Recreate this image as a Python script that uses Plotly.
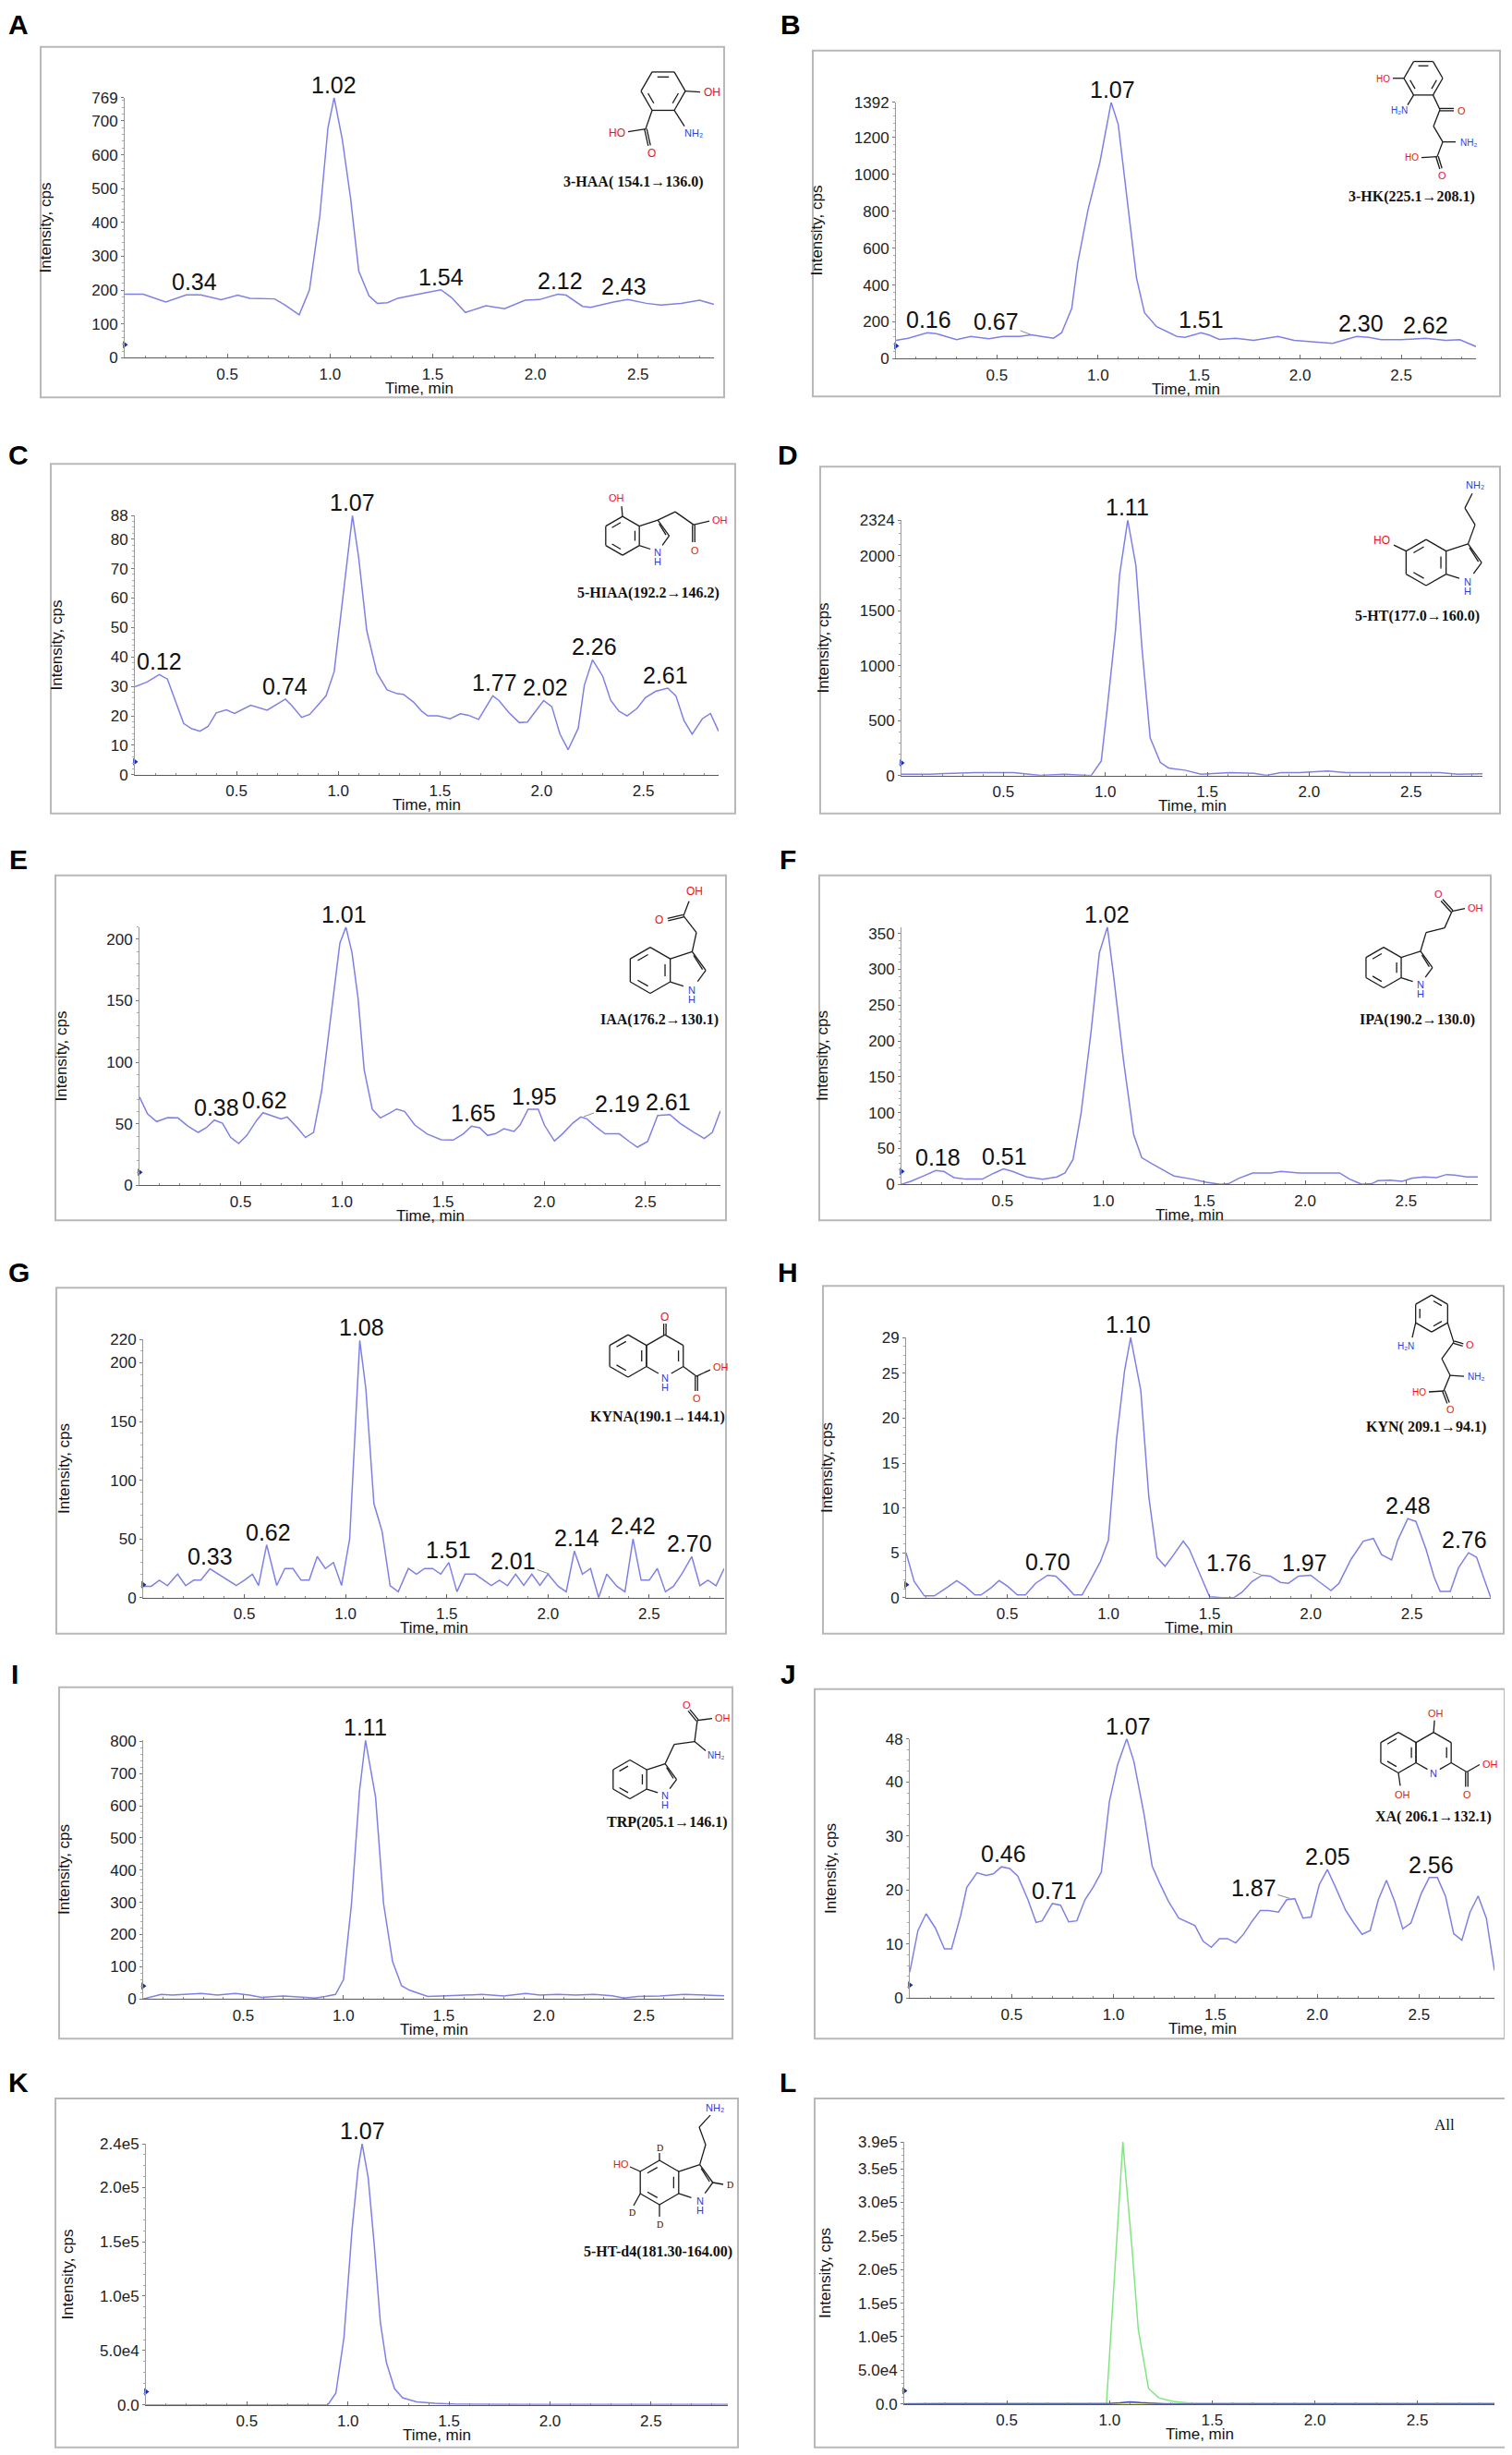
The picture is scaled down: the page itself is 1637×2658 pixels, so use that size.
import math
import numpy as np
import plotly.graph_objects as go

W, H = 1637, 2658
PAD = 8
SANS = "Liberation Sans, Arial, sans-serif"
SERIF = "Liberation Serif, DejaVu Serif, serif"
TRACE = "#7f80e6"
RED = "#e8141c"
BLUE = "#2b3fe0"

# ---- chromatogram readings (time in min, intensity in cps) ----
HAA_T = [0, 0.09, 0.2, 0.3, 0.37, 0.47, 0.55, 0.61, 0.73, 0.78, 0.85, 0.9, 0.95, 0.99, 1.02, 1.06, 1.1, 1.14,
         1.19, 1.23, 1.28, 1.33, 1.43, 1.54, 1.59, 1.66, 1.76, 1.85, 1.95, 2.02, 2.11, 2.15, 2.23, 2.27, 2.38,
         2.45, 2.54, 2.61, 2.71, 2.8, 2.87]
HAA_I = [188, 188, 165, 186, 186, 172, 185, 176, 174, 156, 127, 201, 418, 680, 769, 644, 472, 256, 183, 161,
         163, 176, 188, 201, 179, 134, 154, 145, 170, 172, 188, 185, 152, 149, 165, 172, 161, 156, 161, 170, 158]
HAA_PEAKS = ["0.34", "1.02", "1.54", "2.12", "2.43"]
HAA_YTICKS = [0, 100, 200, 300, 400, 500, 600, 700, 769]

HK_T = [0, 0.06, 0.155, 0.2, 0.3, 0.37, 0.46, 0.53, 0.61, 0.67, 0.72, 0.78, 0.82, 0.87, 0.9, 0.95, 1.01, 1.065,
        1.1, 1.145, 1.19, 1.23, 1.29, 1.39, 1.43, 1.51, 1.55, 1.6, 1.68, 1.77, 1.89, 1.97, 2.04, 2.16, 2.28, 2.34,
        2.4, 2.5, 2.62, 2.72, 2.79, 2.87]
HK_I = [100, 111, 141, 136, 103, 121, 108, 121, 121, 130, 121, 111, 141, 274, 523, 806, 1071, 1392, 1271, 855,
        440, 249, 174, 121, 116, 141, 128, 105, 111, 100, 121, 100, 95, 83, 121, 116, 103, 103, 111, 100, 103, 66]
HK_PEAKS = ["0.16", "0.67", "1.07", "1.51", "2.30", "2.62"]
HK_YTICKS = [0, 200, 400, 600, 800, 1000, 1200, 1392]

HIAA_T = [0, 0.06, 0.12, 0.16, 0.24, 0.28, 0.32, 0.36, 0.40, 0.45, 0.49, 0.57, 0.65, 0.74, 0.77, 0.82, 0.86,
          0.94, 0.98, 1.01, 1.04, 1.07, 1.10, 1.14, 1.19, 1.24, 1.29, 1.32, 1.37, 1.41, 1.44, 1.49, 1.55, 1.60,
          1.64, 1.69, 1.76, 1.79, 1.84, 1.89, 1.93, 2.01, 2.05, 2.09, 2.13, 2.18, 2.21, 2.25, 2.30, 2.34, 2.38,
          2.42, 2.47, 2.51, 2.56, 2.62, 2.66, 2.70, 2.74, 2.79, 2.83, 2.87]
HIAA_I = [29.9, 31.5, 34, 32.5, 17.4, 15.6, 14.8, 16.4, 21, 22, 20.8, 23.6, 21.9, 25.7, 23.6, 19.5, 20.5, 26.8,
          35, 53, 71, 88, 74, 49, 34.6, 28.8, 27.5, 27.3, 24.7, 21.6, 20, 20, 19, 20.7, 20.2, 18.8, 26.8, 25.2,
          21, 17.7, 17.9, 25.2, 23.1, 13.8, 8.5, 15.8, 30.4, 39, 33.5, 25.2, 21.6, 20, 22.6, 26.2, 28.3, 29.4,
          26.8, 18.4, 13.8, 19, 20.8, 14.8]
HIAA_PEAKS = ["0.12", "0.74", "1.07", "1.77", "2.02", "2.26", "2.61"]
HIAA_YTICKS = [0, 10, 20, 30, 40, 50, 60, 70, 80, 88]

HT_T = [0, 0.14, 0.36, 0.55, 0.68, 0.80, 0.93, 0.98, 1.01, 1.05, 1.07, 1.11, 1.15, 1.18, 1.22, 1.27, 1.31, 1.39,
        1.47, 1.61, 1.73, 1.79, 1.86, 1.95, 2.09, 2.18, 2.32, 2.48, 2.64, 2.73, 2.85]
HT_I = [14, 14, 28, 28, 3, 14, 0, 134, 624, 1323, 1826, 2324, 1910, 1155, 344, 120, 70, 50, 14, 28, 22, 3, 28,
        28, 42, 28, 28, 31, 28, 14, 17]
HT_PEAKS = ["1.11"]
HT_YTICKS = [0, 500, 1000, 1500, 2000, 2324]

IAA_T = [0, 0.04, 0.085, 0.14, 0.19, 0.24, 0.29, 0.33, 0.37, 0.41, 0.45, 0.49, 0.53, 0.58, 0.61, 0.66, 0.70,
         0.73, 0.78, 0.82, 0.86, 0.90, 0.95, 0.99, 1.02, 1.05, 1.08, 1.11, 1.15, 1.19, 1.24, 1.27, 1.31, 1.36,
         1.42, 1.49, 1.55, 1.60, 1.64, 1.68, 1.72, 1.76, 1.80, 1.85, 1.88, 1.92, 1.97, 2.00, 2.05, 2.09, 2.14,
         2.18, 2.21, 2.26, 2.30, 2.37, 2.42, 2.46, 2.51, 2.56, 2.62, 2.67, 2.74, 2.79, 2.83, 2.87]
IAA_I = [71.8, 58, 51.8, 55, 54.8, 48, 43, 46.8, 53, 50.5, 39, 34, 40.5, 53, 59, 56, 54, 55.5, 46.8, 38.8, 43,
         76.8, 144, 196.8, 210, 189, 151.8, 94, 61.8, 54.8, 59, 62, 60, 49, 41.8, 37, 36.8, 41.8, 48, 46.8, 40.5,
         42, 46, 43.8, 49, 61.8, 61.8, 49, 36, 41.8, 50.5, 55.5, 54, 46.8, 41.8, 41.8, 35.5, 31, 35.5, 56.8,
         57.5, 50.5, 43, 38, 43, 60.5]
IAA_PEAKS = ["0.38", "0.62", "1.01", "1.65", "1.95", "2.19", "2.61"]
IAA_YTICKS = [0, 50, 100, 150, 200]

IPA_T = [0, 0.046, 0.115, 0.17, 0.21, 0.26, 0.32, 0.40, 0.46, 0.505, 0.55, 0.62, 0.70, 0.77, 0.81, 0.85, 0.89,
         0.94, 0.98, 1.02, 1.05, 1.10, 1.15, 1.19, 1.24, 1.28, 1.35, 1.44, 1.51, 1.58, 1.62, 1.67, 1.74, 1.83,
         1.88, 1.97, 2.06, 2.17, 2.22, 2.28, 2.33, 2.36, 2.42, 2.48, 2.53, 2.59, 2.65, 2.70, 2.74, 2.80, 2.855]
IPA_I = [0, 4.3, 12.4, 19.3, 18, 9.4, 7.3, 7.3, 15.9, 21.5, 18, 10.3, 7.3, 10.3, 15.9, 35, 99.6, 215, 322.7, 359,
         292.7, 172.5, 69.5, 37.3, 28.8, 22.3, 11.6, 7.3, 3, 0, 0.9, 8.2, 15.9, 15.9, 18, 15.9, 15.9, 15.9, 7.3, 0,
         0.9, 5.2, 6, 4.3, 8.6, 10.3, 9.4, 13.7, 12.9, 10.3, 10.3]
IPA_PEAKS = ["0.18", "0.51", "1.02"]
IPA_YTICKS = [0, 50, 100, 150, 200, 250, 300, 350]

KYNA_T = [0, 0.04, 0.08, 0.12, 0.17, 0.21, 0.25, 0.285, 0.33, 0.37, 0.42, 0.46, 0.50, 0.54, 0.57, 0.61, 0.66,
          0.70, 0.74, 0.78, 0.82, 0.86, 0.90, 0.94, 0.98, 1.02, 1.07, 1.10, 1.14, 1.18, 1.22, 1.26, 1.31, 1.35,
          1.39, 1.43, 1.47, 1.51, 1.55, 1.59, 1.64, 1.68, 1.72, 1.76, 1.80, 1.84, 1.88, 1.92, 1.96, 2.00, 2.05,
          2.09, 2.13, 2.17, 2.21, 2.25, 2.29, 2.34, 2.38, 2.42, 2.46, 2.50, 2.54, 2.58, 2.62, 2.66, 2.71, 2.75,
          2.79, 2.83, 2.87]
KYNA_I = [9.7, 9.7, 14.9, 10.2, 20, 10.2, 14.9, 14.9, 24.5, 20, 14.9, 10.4, 14.9, 20, 10.4, 45, 10.4, 24.8, 24.8,
          14.9, 14.9, 35, 24.8, 30, 10.4, 50, 219, 178, 80, 56.7, 10.2, 5, 24.8, 20, 24.8, 24.8, 20, 30, 5, 20, 20,
          14.9, 10.4, 14.9, 10.2, 20, 10.4, 20, 10.4, 20, 9.7, 5, 39.7, 20, 24.8, 0, 20, 9.7, 5, 50, 14.9, 14.9,
          24.8, 5, 9.7, 20, 35, 10.2, 14.9, 10.2, 24.8]
KYNA_PEAKS = ["0.33", "0.62", "1.08", "1.51", "2.01", "2.14", "2.42", "2.70"]
KYNA_YTICKS = [0, 50, 100, 150, 200, 220]

KYN_T = [0, 0.04, 0.09, 0.14, 0.20, 0.25, 0.29, 0.34, 0.37, 0.42, 0.46, 0.50, 0.55, 0.59, 0.64, 0.70, 0.74,
         0.79, 0.83, 0.87, 0.91, 0.96, 1.00, 1.04, 1.08, 1.11, 1.16, 1.20, 1.24, 1.28, 1.32, 1.37, 1.40, 1.46,
         1.50, 1.56, 1.62, 1.66, 1.71, 1.76, 1.80, 1.85, 1.89, 1.94, 2.00, 2.04, 2.10, 2.14, 2.20, 2.26, 2.31,
         2.35, 2.40, 2.43, 2.48, 2.52, 2.57, 2.61, 2.64, 2.69, 2.73, 2.78, 2.82, 2.86, 2.89]
KYN_I = [5, 1.8, 0.2, 0.2, 1.1, 1.9, 1.3, 0.3, 0.3, 1.1, 1.9, 1.3, 0.3, 0.3, 1.6, 2.5, 2.4, 1.3, 0.3, 0.3, 1.9, 4,
         6.4, 17.6, 25.3, 29, 23.1, 11.2, 4.5, 3.5, 4.7, 6.3, 5.4, 2.3, 0.1, 0, 0, 0.6, 1.8, 2.5, 2.4, 1.7, 1.6,
         2.4, 2.5, 1.8, 0.8, 1.6, 4.3, 6.3, 6.6, 4.8, 4.2, 6.4, 8.8, 8.5, 5.4, 2.3, 0.7, 0.7, 3.3, 5, 4.5, 1.9, 0]
KYN_PEAKS = ["0.70", "1.10", "1.76", "1.97", "2.48", "2.76"]
KYN_YTICKS = [0, 5, 10, 15, 20, 25, 29]

TRP_T = [0, 0.03, 0.09, 0.145, 0.235, 0.29, 0.37, 0.46, 0.53, 0.59, 0.70, 0.79, 0.86, 0.91, 0.96, 1.00, 1.04,
         1.08, 1.11, 1.16, 1.20, 1.245, 1.29, 1.33, 1.38, 1.42, 1.49, 1.58, 1.69, 1.80, 1.91, 1.98, 2.07, 2.16,
         2.25, 2.34, 2.40, 2.47, 2.58, 2.70, 2.81, 2.90]
TRP_I = [0, 5, 14, 12, 14, 17, 12, 17, 12, 5, 9, 5, 3, 8, 14, 60, 296, 646, 803, 627, 296, 116, 41, 27, 17, 8, 9,
         12, 14, 9, 17, 12, 14, 12, 14, 10, 3, 8, 9, 14, 12, 10]
TRP_PEAKS = ["1.11"]
TRP_YTICKS = [0, 100, 200, 300, 400, 500, 600, 700, 800]

XA_T = [0, 0.04, 0.08, 0.125, 0.17, 0.205, 0.25, 0.28, 0.33, 0.375, 0.41, 0.45, 0.49, 0.53, 0.58, 0.62, 0.65,
        0.70, 0.74, 0.78, 0.82, 0.86, 0.90, 0.94, 0.98, 1.02, 1.065, 1.10, 1.15, 1.19, 1.23, 1.27, 1.32, 1.36,
        1.40, 1.44, 1.48, 1.52, 1.56, 1.60, 1.64, 1.68, 1.72, 1.76, 1.81, 1.85, 1.89, 1.93, 1.97, 2.01, 2.05,
        2.09, 2.14, 2.18, 2.22, 2.26, 2.30, 2.34, 2.38, 2.42, 2.46, 2.51, 2.55, 2.59, 2.63, 2.67, 2.71, 2.75,
        2.79, 2.83, 2.87]
XA_I = [4.8, 12.5, 15.6, 13, 9.1, 9.1, 15.3, 20.5, 23.2, 22.7, 23, 24.3, 24, 22.6, 18.2, 14, 14.3, 17.5, 17.2,
        14.1, 14.3, 18.2, 20.5, 23.3, 36.4, 43.2, 48, 43.8, 34, 24.4, 21, 17.9, 14.8, 14.1, 13.4, 10.5, 9.4, 11, 11,
        10.2, 11.9, 14.2, 16.2, 16.2, 15.9, 18.2, 18.4, 14.8, 15, 21, 23.8, 20.5, 16.2, 13.9, 11.8, 12.5, 18.2,
        21.8, 17.9, 12.8, 13.9, 19.3, 22.3, 22.3, 18.8, 11.9, 10.7, 15.9, 18.9, 14.8, 5.1]
XA_PEAKS = ["0.46", "0.71", "1.07", "1.87", "2.05", "2.56"]
XA_YTICKS = [0, 10, 20, 30, 40, 48]

HTD4_T = [0, 0.55, 0.90, 0.94, 0.98, 1.02, 1.05, 1.07, 1.10, 1.13, 1.16, 1.19, 1.23, 1.27, 1.34, 1.43, 1.54,
          1.87, 2.88]
HTD4_I = [0, 0, 0, 10800, 61800, 161000, 217000, 240000, 209000, 147000, 76000, 39000, 15000, 6500, 2800, 1400,
          600, 300, 300]
HTD4_PEAKS = ["1.07"]
HTD4_YTICKS = [0, 50000, 100000, 150000, 200000, 240000]
HTD4_YTEXT = ["0.0", "5.0e4", "1.0e5", "1.5e5", "2.0e5", "2.4e5"]

ALL_GREEN_T = [0, 0.985, 1.02, 1.045, 1.065, 1.075, 1.11, 1.14, 1.175, 1.19, 1.24, 1.31, 1.40, 2.875]
ALL_GREEN_I = [0, 0, 170000, 300000, 390000, 353000, 230000, 111000, 52000, 23000, 9000, 3600, 900, 900]
ALL_BLUE_T = [0, 0.95, 1.0, 1.05, 1.1, 1.15, 1.2, 1.27, 2.875]
ALL_BLUE_I = [0, 0, 800, 1800, 3200, 2000, 900, 0, 0]
ALL_YELLOW_T = [0, 0.8, 1.0, 1.3, 2.0, 2.875]
ALL_YELLOW_I = [600, 900, 1200, 1400, 1300, 1200]
ALL_YTICKS = [0, 50000, 100000, 150000, 200000, 250000, 300000, 350000, 390000]
ALL_YTEXT = ["0.0", "5.0e4", "1.0e5", "1.5e5", "2.0e5", "2.5e5", "3.0e5", "3.5e5", "3.9e5"]

XTICKS = [0.5, 1.0, 1.5, 2.0, 2.5]

# panel layout in page pixels: plot area (left, right, top, bottom), frame box, letter position
PANELS = [
    dict(letter="A", series=[(HAA_T, HAA_I, TRACE)], peaks=HAA_PEAKS, yt=HAA_YTICKS, ymax=769, xmax=2.87,
         name="3-HAA( 154.1→136.0)", name_xy=(690, 194), area=(139, 777, 103, 385), box=(48, 48, 788, 428),
         let_xy=(24, 24)),
    dict(letter="B", series=[(HK_T, HK_I, TRACE)], peaks=HK_PEAKS, yt=HK_YTICKS, ymax=1392, xmax=2.87,
         name="3-HK(225.1→208.1)", name_xy=(1532, 210), area=(974, 1602, 108, 386), box=(884, 52, 1628, 427),
         let_xy=(860, 24)),
    dict(letter="C", series=[(HIAA_T, HIAA_I, TRACE)], peaks=HIAA_PEAKS, yt=HIAA_YTICKS, ymax=88, xmax=2.87,
         name="5-HIAA(192.2→146.2)", name_xy=(706, 640), area=(150, 782, 556, 837), box=(59, 500, 800, 879),
         let_xy=(24, 490)),
    dict(letter="D", series=[(HT_T, HT_I, TRACE)], peaks=HT_PEAKS, yt=HT_YTICKS, ymax=2324, xmax=2.85,
         name="5-HT(177.0→160.0)", name_xy=(1538, 665), area=(980, 1609, 561, 838), box=(892, 503, 1628, 879),
         let_xy=(857, 490)),
    dict(letter="E", series=[(IAA_T, IAA_I, TRACE)], peaks=IAA_PEAKS, yt=IAA_YTICKS, ymax=210, xmax=2.87,
         name="IAA(176.2→130.1)", name_xy=(718, 1102), area=(155, 784, 1002, 1282), box=(64, 946, 790, 1320),
         let_xy=(24, 929)),
    dict(letter="F", series=[(IPA_T, IPA_I, TRACE)], peaks=IPA_PEAKS, yt=IPA_YTICKS, ymax=359, xmax=2.855,
         name="IPA(190.2→130.0)", name_xy=(1538, 1102), area=(980, 1604, 1002, 1281), box=(891, 946, 1618, 1320),
         let_xy=(857, 929)),
    dict(letter="G", series=[(KYNA_T, KYNA_I, TRACE)], peaks=KYNA_PEAKS, yt=KYNA_YTICKS, ymax=220, xmax=2.87,
         name="KYNA(190.1→144.1)", name_xy=(716, 1533), area=(159, 788, 1449, 1729), box=(65, 1393, 790, 1768),
         let_xy=(24, 1376)),
    dict(letter="H", series=[(KYN_T, KYN_I, TRACE)], peaks=KYN_PEAKS, yt=KYN_YTICKS, ymax=29, xmax=2.89,
         name="KYN( 209.1→94.1)", name_xy=(1548, 1544), area=(985, 1618, 1447, 1729), box=(895, 1391, 1632, 1768),
         let_xy=(857, 1376)),
    dict(letter="I", series=[(TRP_T, TRP_I, TRACE)], peaks=TRP_PEAKS, yt=TRP_YTICKS, ymax=805, xmax=2.90,
         name="TRP(205.1→146.1)", name_xy=(726, 1973), area=(159, 788, 1883, 2164), box=(68, 1826, 797, 2207),
         let_xy=(20, 1812)),
    dict(letter="J", series=[(XA_T, XA_I, TRACE)], peaks=XA_PEAKS, yt=XA_YTICKS, ymax=48, xmax=2.87,
         name="XA( 206.1→132.1)", name_xy=(1556, 1967), area=(989, 1622, 1882, 2163), box=(886, 1828, 1633, 2207),
         let_xy=(857, 1812)),
    dict(letter="K", series=[(HTD4_T, HTD4_I, TRACE)], peaks=HTD4_PEAKS, yt=HTD4_YTICKS, ymax=240000, xmax=2.88,
         ytext=HTD4_YTEXT, name="5-HT-d4(181.30-164.00)", name_xy=(716, 2438), area=(162, 792, 2321, 2604),
         box=(64, 2272, 803, 2650), let_xy=(24, 2254)),
    dict(letter="L", series=[(ALL_YELLOW_T, ALL_YELLOW_I, "#d9e44a"), (ALL_GREEN_T, ALL_GREEN_I, "#7fe67f"),
                             (ALL_BLUE_T, ALL_BLUE_I, "#3a46c8")],
         peaks=[], yt=ALL_YTICKS, ytext=ALL_YTEXT, ymax=390000, xmax=2.875, name="All", name_xy=(1568, 2300),
         area=(983, 1622, 2319, 2603), box=(886, 2272, 1634, 2650), let_xy=(857, 2254)),
]

# labels that sit beside their peak with a short leader line (pixel offsets)
LEADERS = {("B", "0.67"): (-38, -14), ("E", "2.19"): (38, -14), ("G", "2.01"): (-40, -14),
           ("H", "1.76"): (-36, -13), ("J", "1.87"): (-40, -12)}

fig = go.Figure()
shapes, notes = [], []


def fx(x):
    return (x - 4 - PAD) / W


def fy(y):
    y = y - 6 + 0.006 * (y - 48)
    return 1 - (y - PAD) / H


def seg(x0, y0, x1, y1, color="#1a1a1a", width=1.3):
    shapes.append(dict(type="line", xref="paper", yref="paper", x0=fx(x0), y0=fy(y0), x1=fx(x1), y1=fy(y1),
                       line=dict(color=color, width=width)))


def dbl(x0, y0, x1, y1, gap=2.5):
    dx, dy = x1 - x0, y1 - y0
    n = math.hypot(dx, dy)
    ox, oy = -dy / n * gap / 2, dx / n * gap / 2
    seg(x0 + ox, y0 + oy, x1 + ox, y1 + oy)
    seg(x0 - ox, y0 - oy, x1 - ox, y1 - oy)


def label(x, y, s, size=11, color="#111", family=SANS, angle=0):
    notes.append(dict(xref="paper", yref="paper", x=fx(x), y=fy(y), text=s, showarrow=False, xanchor="center",
                      yanchor="middle", textangle=angle, font=dict(size=size, color=color, family=family)))


def hexring(cx, cy, r, flat=False, inner=(0, 2, 4), gap=None):
    start = 0 if flat else -90
    pts = [(cx + r * math.cos(math.radians(start + 60 * k)), cy + r * math.sin(math.radians(start + 60 * k)))
           for k in range(6)]
    for k in range(6):
        a, b = pts[k], pts[(k + 1) % 6]
        if gap is not None and gap in (k, (k + 1) % 6):
            # leave room for a ring nitrogen label
            if gap == k:
                a = (a[0] + 0.35 * (b[0] - a[0]), a[1] + 0.35 * (b[1] - a[1]))
            else:
                b = (b[0] + 0.35 * (a[0] - b[0]), b[1] + 0.35 * (a[1] - b[1]))
        seg(*a, *b)
    for k in inner:
        (x0, y0), (x1, y1) = pts[k], pts[(k + 1) % 6]
        x0, y0 = cx + 0.74 * (x0 - cx), cy + 0.74 * (y0 - cy)
        x1, y1 = cx + 0.74 * (x1 - cx), cy + 0.74 * (y1 - cy)
        dx, dy = x1 - x0, y1 - y0
        seg(x0 + 0.15 * dx, y0 + 0.15 * dy, x1 - 0.15 * dx, y1 - 0.15 * dy)
    return pts


def indole(cx, cy, r):
    pts = hexring(cx, cy, r, inner=(5, 1, 3))
    xr = cx + r * math.sqrt(3) / 2
    cxp = xr + 0.688 * r
    c3 = (cxp + 0.263 * r, cy - 0.809 * r)
    c2 = (cxp + 0.851 * r, cy)
    n1 = (cxp + 0.263 * r, cy + 0.809 * r)
    seg(*pts[1], *c3)
    seg(*c3, *c2)
    seg(c3[0] + 1.5, c3[1] + 4, c2[0] - 3.5, c2[1] - 1)
    seg(*c2, c2[0] + 0.6 * (n1[0] - c2[0]), c2[1] + 0.6 * (n1[1] - c2[1]))
    seg(n1[0] + 0.4 * (pts[2][0] - n1[0]), n1[1] + 0.4 * (pts[2][1] - n1[1]), *pts[2])
    label(n1[0], n1[1] + 1, "N", 11, BLUE)
    label(n1[0], n1[1] + 11, "H", 11, BLUE)
    return pts, c3, c2, n1


def draw_structures():
    # A 3-HAA
    p = hexring(722, 96, 24, flat=True, inner=(0, 2, 4))
    seg(*p[0], 762, 97); label(775, 97, "OH", 12, RED)
    seg(*p[1], 745, 134); label(755, 141, "NH₂", 11, BLUE)
    seg(*p[2], 703, 137); seg(703, 137, 684, 140); label(672, 141, "HO", 12, RED)
    dbl(703, 137, 707, 155); label(709, 163, "O", 12, RED)
    # B 3-HK
    p = hexring(1545, 82, 21, flat=True, inner=(0, 2, 4))
    seg(*p[3], 1512, 82); label(1501, 83, "HO", 10, RED)
    seg(*p[2], 1528, 111); label(1519, 117, "H₂N", 10, BLUE)
    seg(*p[1], 1563, 116); dbl(1563, 116, 1578, 116); label(1586, 117, "O", 11, RED)
    seg(1563, 116, 1556, 134); seg(1556, 134, 1566, 151); seg(1566, 151, 1580, 151)
    label(1594, 152, "NH₂", 10, BLUE)
    seg(1566, 151, 1560, 167); seg(1560, 167, 1543, 168); label(1532, 168, "HO", 10, RED)
    dbl(1560, 167, 1564, 180); label(1565, 187, "O", 11, RED)
    # C 5-HIAA
    p, c3, c2, n1 = indole(678, 578, 21)
    seg(*p[0], 677, 546); label(671, 537, "OH", 11, RED)
    seg(*c3, 735, 552); seg(735, 552, 755, 566); seg(755, 566, 772, 562); label(783, 561, "OH", 11, RED)
    dbl(755, 566, 755, 585); label(756, 594, "O", 11, RED)
    # D 5-HT
    p, c3, c2, n1 = indole(1548, 607, 25)
    seg(*p[5], 1513, 588); label(1500, 583, "HO", 12, RED)
    seg(*c3, 1601, 566); seg(1601, 566, 1590, 548); seg(1590, 548, 1598, 532)
    label(1601, 523, "NH₂", 11, BLUE)
    # E IAA
    p, c3, c2, n1 = indole(708, 1049, 25)
    seg(*c3, 758, 1008); seg(758, 1008, 744, 990); dbl(744, 990, 727, 994); label(717, 994, "O", 12, RED)
    seg(744, 990, 750, 974); label(756, 963, "OH", 12, RED)
    # F IPA
    p, c3, c2, n1 = indole(1502, 1046, 22)
    seg(*c3, 1548, 1008); seg(1548, 1008, 1568, 1003); seg(1568, 1003, 1576, 985)
    dbl(1576, 985, 1565, 973); label(1561, 966, "O", 11, RED)
    seg(1576, 985, 1590, 982); label(1601, 981, "OH", 11, RED)
    # G KYNA
    hexring(684, 1467, 23, inner=(5, 1, 3))
    q = hexring(684 + 23 * math.sqrt(3), 1467, 23, inner=(1,), gap=3)
    dbl(q[0][0], q[0][1], q[0][0], 1432); label(q[0][0], 1425, "O", 12, RED)
    label(q[3][0], q[3][1] + 1, "N", 11, BLUE); label(q[3][0], q[3][1] + 11, "H", 11, BLUE)
    seg(*q[2], 758, 1489); seg(758, 1489, 773, 1482); label(784, 1479, "OH", 11, RED)
    dbl(758, 1489, 758, 1505); label(758, 1513, "O", 11, RED)
    # H KYN
    p = hexring(1554, 1421, 20)
    seg(*p[4], 1533, 1447); label(1526, 1456, "H₂N", 10, BLUE)
    seg(*p[2], 1578, 1452); dbl(1578, 1452, 1588, 1455); label(1595, 1455, "O", 11, RED)
    seg(1578, 1452, 1565, 1470); seg(1565, 1470, 1574, 1488); seg(1574, 1488, 1589, 1489)
    label(1602, 1489, "NH₂", 10, BLUE)
    seg(1574, 1488, 1567, 1505); seg(1567, 1505, 1551, 1506); label(1540, 1506, "HO", 10, RED)
    dbl(1567, 1505, 1572, 1518); label(1574, 1525, "O", 11, RED)
    # I TRP
    p, c3, c2, n1 = indole(686, 1926, 21)
    seg(*c3, 734, 1888); seg(734, 1888, 756, 1885); seg(756, 1885, 768, 1895)
    label(779, 1900, "NH₂", 10, BLUE)
    seg(756, 1885, 759, 1862); dbl(759, 1862, 750, 1851); label(747, 1845, "O", 11, RED)
    seg(759, 1862, 775, 1860); label(786, 1859, "OH", 11, RED)
    # J XA
    cxj = 1518
    l = hexring(cxj, 1897, 22, inner=(5, 1, 3))
    q = hexring(cxj + 22 * math.sqrt(3), 1897, 22, inner=(1,), gap=3)
    seg(*q[0], q[0][0] + 1, 1862); label(q[0][0] + 2, 1854, "OH", 11, RED)
    seg(*l[3], cxj + 2, 1933); label(cxj + 4, 1942, "OH", 11, RED)
    label(q[3][0], q[3][1], "N", 11, BLUE)
    seg(*q[2], cxj + 74, 1918); seg(cxj + 74, 1918, cxj + 88, 1910); label(cxj + 99, 1909, "OH", 11, RED)
    dbl(cxj + 74, 1918, cxj + 74, 1934); label(cxj + 74, 1942, "O", 11, RED)
    # K 5-HT-d4
    p, c3, c2, n1 = indole(718, 2363, 24)
    seg(*p[5], 686, 2346); label(676, 2343, "HO", 11, RED)
    seg(*p[0], 718, 2331); label(718, 2325, "D", 10, family=SERIF)
    seg(*p[4], 690, 2388); label(688, 2396, "D", 10, family=SERIF)
    seg(*p[3], 718, 2400); label(718, 2409, "D", 10, family=SERIF)
    seg(*c2, 787, 2365); label(794, 2366, "D", 10, family=SERIF)
    seg(*c3, 768, 2322); seg(768, 2322, 761, 2303); seg(761, 2303, 773, 2290)
    label(778, 2282, "NH₂", 11, BLUE)


layout = dict(width=W, height=H, margin=dict(l=0, r=0, t=0, b=0), paper_bgcolor="white",
              plot_bgcolor="white", showlegend=False)

for k, pnl in enumerate(PANELS):
    sfx = "" if k == 0 else str(k + 1)
    axL, axR, yT, yB = pnl["area"]
    for t, i, col in pnl["series"]:
        fig.add_trace(go.Scatter(x=t, y=i, mode="lines", line=dict(color=col, width=1.5),
                                 xaxis="x" + sfx, yaxis="y" + sfx, hoverinfo="skip"))
    yt = pnl["yt"]
    ytext = pnl.get("ytext") or [str(v) for v in yt]
    ystep = yt[1] - yt[0]
    # small start marker that the acquisition software draws on the intensity axis
    fig.add_trace(go.Scatter(x=[0], y=[0.05 * pnl["ymax"]], mode="markers", cliponaxis=False,
                             marker=dict(symbol="triangle-right", size=7, color="#1a2fb0"),
                             xaxis="x" + sfx, yaxis="y" + sfx, hoverinfo="skip"))
    layout["xaxis" + sfx] = dict(
        domain=[fx(axL), fx(axR)], anchor="y" + sfx, range=[0, pnl["xmax"]],
        tickvals=XTICKS, ticktext=["%.1f" % v for v in XTICKS], ticks="inside", ticklen=4, tickcolor="#666",
        minor=dict(dtick=0.1, tick0=0, ticks="inside", ticklen=2, tickcolor="#888"),
        showline=True, linecolor="#5a5a5a", linewidth=1.2, showgrid=False, zeroline=False,
        tickfont=dict(family=SANS, size=17, color="#222"), ticklabelstandoff=2, fixedrange=True)
    layout["yaxis" + sfx] = dict(
        domain=[fy(yB), fy(yT)], anchor="x" + sfx, range=[0, pnl["ymax"]],
        tickvals=yt, ticktext=ytext, ticks="outside", ticklen=3, tickcolor="#777",
        minor=dict(dtick=ystep / 5, tick0=0, ticks="outside", ticklen=2, tickcolor="#aaa"),
        showline=True, linecolor="#9a9a9a", linewidth=1, showgrid=False, zeroline=False,
        tickfont=dict(family=SANS, size=17, color="#222"), fixedrange=True)

    bl, bt, br, bb = pnl["box"]
    shapes.append(dict(type="rect", xref="paper", yref="paper", x0=fx(bl), y0=fy(bb), x1=fx(br), y1=fy(bt),
                       line=dict(color="#b8b8b8", width=2)))
    label(*pnl["let_xy"], "<b>%s</b>" % pnl["letter"], 30, "#000", SANS)
    if pnl["letter"] == "L":
        label(*pnl["name_xy"], pnl["name"], 17, "#111", SERIF)
    else:
        label(*pnl["name_xy"], "<b>%s</b>" % pnl["name"], 16, "#111", SERIF)
    label((axL + axR) / 2, yB + 33, "Time, min", 17, "#111", SANS)
    label(axL - 85, (yT + yB) / 2, "Intensity, cps", 17, "#111", SANS, angle=-90)

    # peak retention-time labels placed at the local maximum of the trace
    t_arr = np.array(pnl["series"][0][0])
    i_arr = np.array(pnl["series"][0][1])
    for pk in pnl["peaks"]:
        rt = float(pk)
        near = np.abs(t_arr - rt) <= 0.03
        top = i_arr[near].max() if near.any() else float(np.interp(rt, t_arr, i_arr))
        off = LEADERS.get((pnl["letter"], pk))
        if off:
            notes.append(dict(xref="x" + sfx, yref="y" + sfx, x=rt, y=top, text=pk, showarrow=True,
                              arrowhead=0, arrowwidth=1, arrowcolor="#8a8a8a", ax=off[0], ay=off[1],
                              standoff=1, font=dict(size=25, color="#111", family=SANS)))
        else:
            notes.append(dict(xref="x" + sfx, yref="y" + sfx, x=rt, y=top, text=pk, showarrow=False,
                              yanchor="bottom", yshift=-2, font=dict(size=25, color="#111", family=SANS)))

draw_structures()
layout["shapes"] = shapes
layout["annotations"] = notes
fig.update_layout(**layout)
fig.write_html("out.html")
